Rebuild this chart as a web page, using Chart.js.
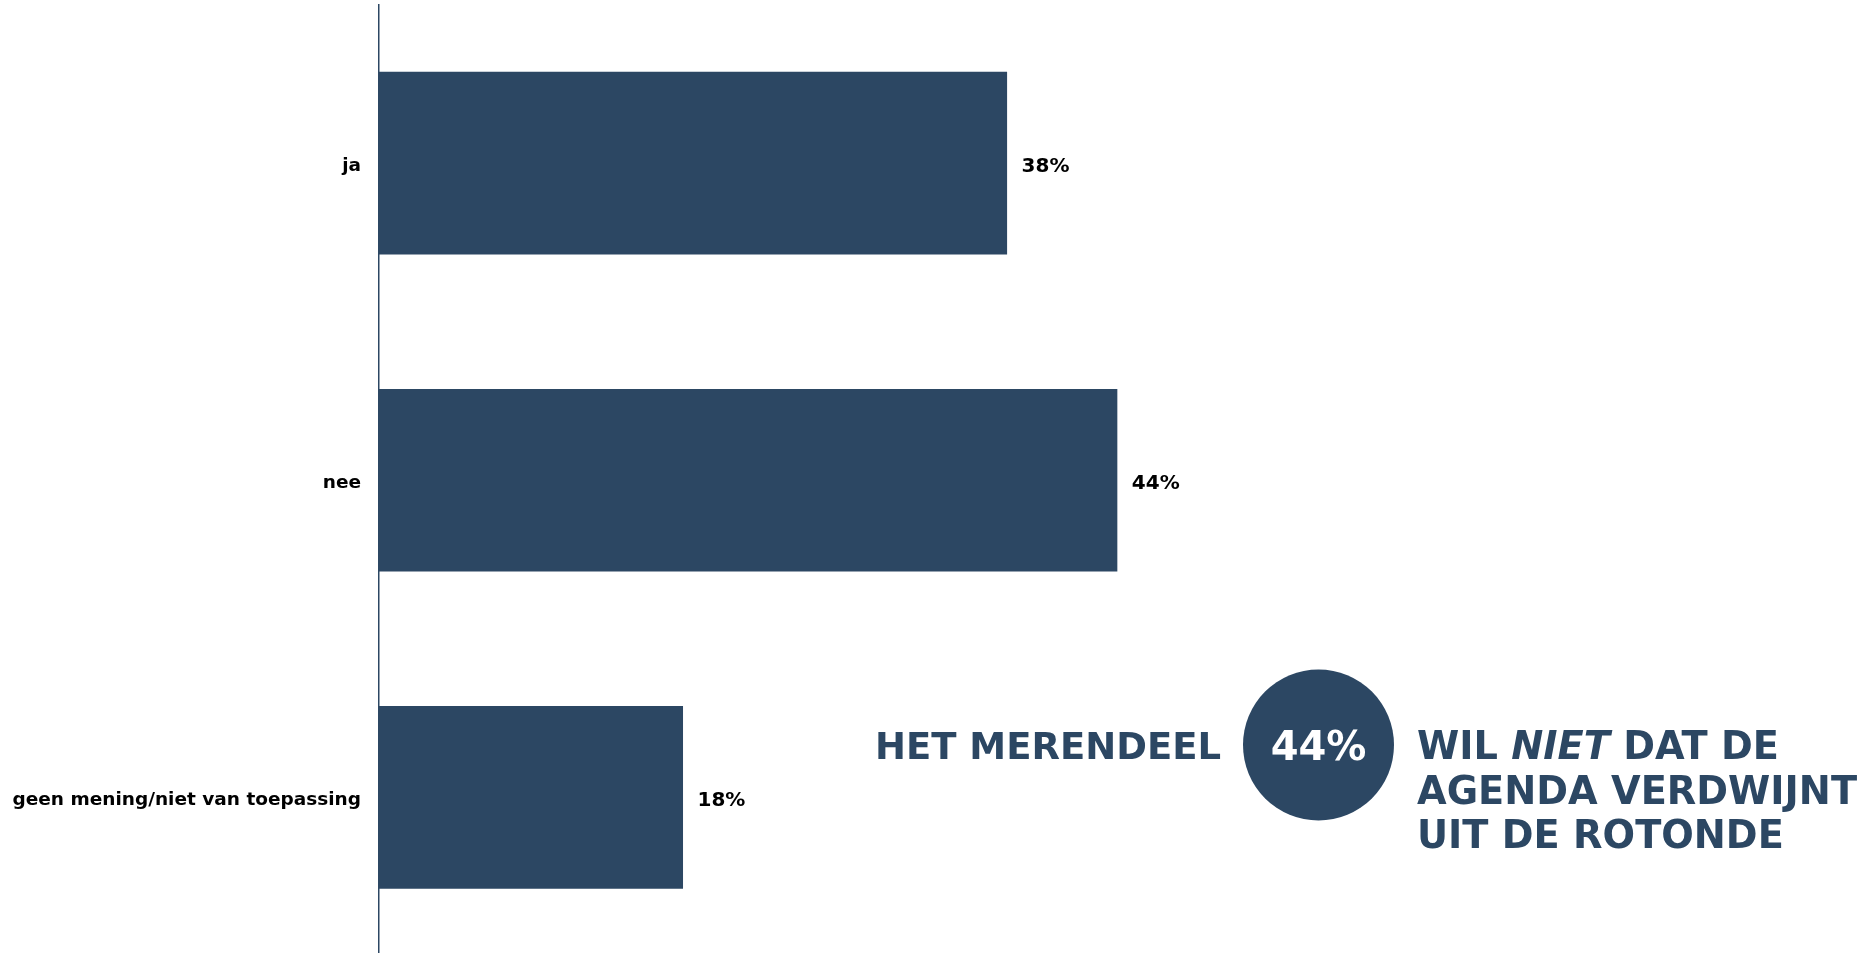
<!DOCTYPE html>
<html>
<head>
<meta charset="utf-8">
<script src="https://cdn.jsdelivr.net/npm/chart.js@4/dist/chart.umd.min.js"></script>
<style>
  html, body { margin: 0; padding: 0; background: #ffffff; overflow: hidden; }
  #wrap { position: relative; width: 1866px; height: 960px; }
</style>
</head>
<body>
<div id="wrap"><canvas id="c"></canvas></div>
<script>
// ---- data ----
const categories = ['ja', 'nee', 'geen mening/niet van toepassing'];
const values = [37.6, 44.2, 18.2];
const valueLabels = ['38%', '44%', '18%'];
const highlightLabel = '44%';
const calloutLeft = 'HET MERENDEEL';
const calloutRight = [
  [['WIL ', false], ['NIET', true], [' DAT DE', false]],
  [['AGENDA VERDWIJNT', false]],
  [['UIT DE ROTONDE', false]]
];

const NAVY = '#2c4763';
const FONT = "Verdana, 'DejaVu Sans', sans-serif";

const categoryLabelPlugin = {
  id: 'categoryLabels',
  afterDraw(chart) {
    const ctx = chart.ctx;
    const y = chart.scales.y;
    ctx.save();
    ctx.font = 'bold 18.5px ' + FONT;
    ctx.fillStyle = '#000000';
    ctx.textAlign = 'right';
    ctx.textBaseline = 'middle';
    y.getLabels().forEach((lab, i) => {
      ctx.fillText(lab, y.right - 18, y.getPixelForTick(i) + 3);
    });
    ctx.restore();
  }
};

const valueLabelPlugin = {
  id: 'valueLabels',
  afterDatasetsDraw(chart) {
    const ctx = chart.ctx;
    const meta = chart.getDatasetMeta(0);
    ctx.save();
    ctx.font = 'bold 20px ' + FONT;
    ctx.fillStyle = '#000000';
    ctx.textAlign = 'left';
    ctx.textBaseline = 'alphabetic';
    meta.data.forEach((bar, i) => {
      ctx.fillText(valueLabels[i], bar.x + 14.5, bar.y + 9);
    });
    ctx.restore();
  }
};

const calloutPlugin = {
  id: 'callout',
  afterDraw(chart) {
    const ctx = chart.ctx;
    ctx.save();
    ctx.fillStyle = NAVY;
    ctx.textBaseline = 'alphabetic';
    ctx.textAlign = 'left';
    ctx.font = 'bold 37px ' + FONT;
    ctx.fillText(calloutLeft, 875, 758.5);
    ctx.beginPath();
    ctx.arc(1318.5, 745, 75.5, 0, Math.PI * 2);
    ctx.fillStyle = NAVY;
    ctx.fill();
    ctx.fillStyle = '#ffffff';
    ctx.textAlign = 'center';
    ctx.font = 'bold 40px ' + FONT;
    ctx.fillText(highlightLabel, 1318.5, 759.5);
    ctx.fillStyle = NAVY;
    ctx.textAlign = 'left';
    const baselines = [759, 803.5, 848];
    calloutRight.forEach((line, li) => {
      let x = 1417;
      line.forEach(([txt, italic]) => {
        ctx.font = (italic ? 'italic ' : '') + 'bold 38.3px ' + FONT;
        ctx.fillText(txt, x, baselines[li]);
        x += ctx.measureText(txt).width;
      });
    });
    ctx.restore();
  }
};

new Chart(document.getElementById('c'), {
  type: 'bar',
  data: {
    labels: categories,
    datasets: [{
      data: values,
      backgroundColor: NAVY,
      borderWidth: 0,
      barPercentage: 0.576,
      categoryPercentage: 1.0
    }]
  },
  options: {
    indexAxis: 'y',
    responsive: true,
    maintainAspectRatio: false,
    animation: false,
    layout: { padding: { top: 4.5, bottom: 4, left: 0, right: 17 } },
    plugins: { legend: { display: false }, tooltip: { enabled: false } },
    scales: {
      x: { display: false, min: 0, max: 88 },
      y: {
        grid: { display: false, drawTicks: false },
        border: { display: true, color: NAVY, width: 1.5 },
        ticks: { display: false },
        afterFit(scale) {
          scale.width = 379;
          scale.paddingTop = 0;
          scale.paddingBottom = 0;
        }
      }
    }
  },
  plugins: [categoryLabelPlugin, valueLabelPlugin, calloutPlugin]
});
</script>
</body>
</html>
